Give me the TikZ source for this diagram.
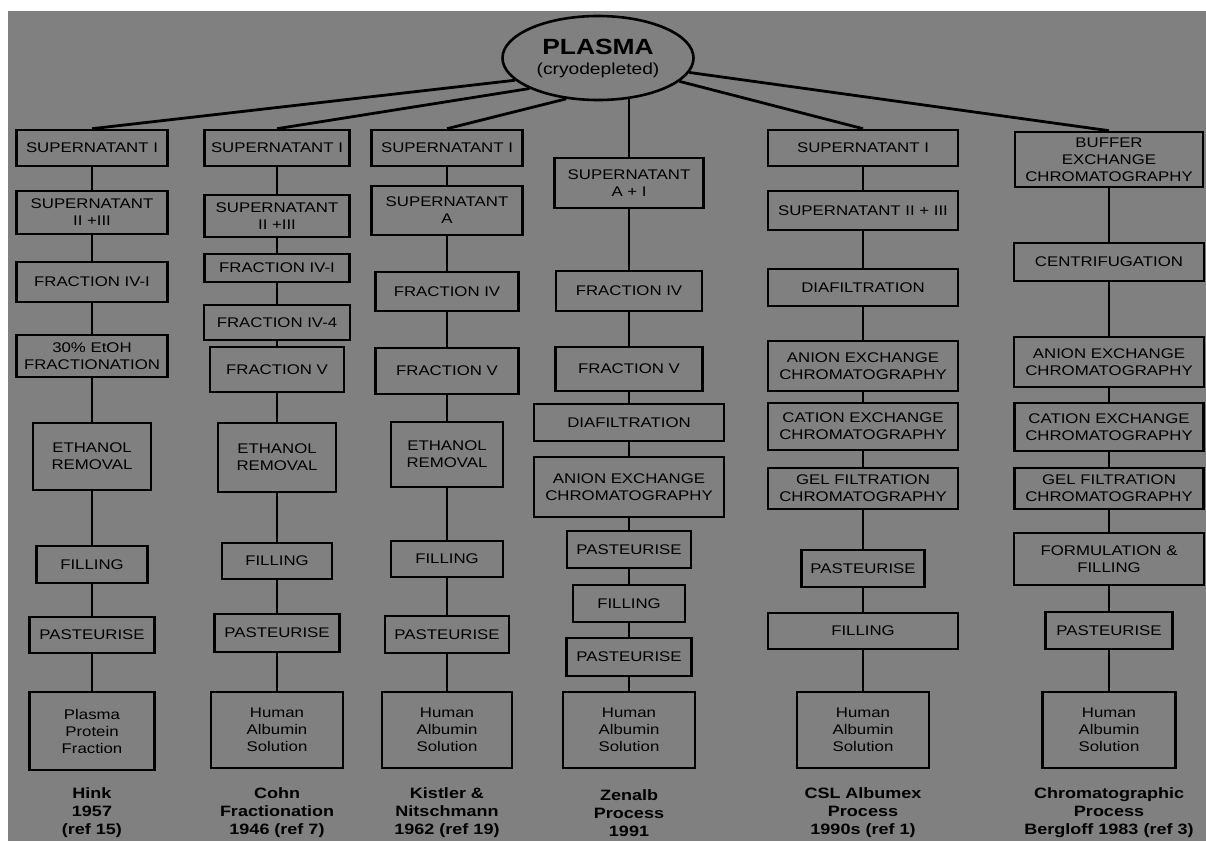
\documentclass[tikz,border=0pt]{standalone}
\usepackage{fontspec}
\newfontfamily\bfam[FakeStretch=1.2]{Liberation Sans}
\usetikzlibrary{shapes.geometric}
\definecolor{bggray}{RGB}{128,128,128}
\tikzset{
  bx/.style={draw=black, line width=2.6pt, rectangle, inner sep=0pt, align=center,
    font=\bfam\fontsize{14}{17}\selectfont, text=black},
  lbl/.style={align=center, font=\bfam\bfseries\fontsize{15}{18}\selectfont, inner sep=0pt, text=black},
  conn/.style={line width=2.8pt, draw=black},
  plasmabox/.style={ellipse, draw=black, line width=2.6pt, inner sep=0pt, align=center,
    font=\bfam\fontsize{16}{20}\selectfont, text=black},
}
\newcommand\bx[6]{\node[bx, minimum width=#3, minimum height={(#5)-(#4)}] (#1) at (#2,{((#4)+(#5))/2}) {#6};}
\begin{document}
\begin{tikzpicture}[x=1pt,y=-1pt]
\useasboundingbox (0,0) rectangle (1206,841);
\fill[white] (0,0) rectangle (1206,841);
\fill[bggray] (8,11) rectangle (1206,841);

\node[plasmabox, minimum width=191, minimum height=84] (plasma) at (598,58)
  {{\fontsize{22}{22}\selectfont\bfseries PLASMA}\\[0pt](cryodepleted)};

% Column 1: Hink
\bx{a1}{92}{151}{130}{166}{SUPERNATANT I}
\bx{a2}{92}{151}{191}{234}{SUPERNATANT\\II +III}
\bx{a3}{92}{151}{262}{302}{FRACTION IV-I}
\bx{a4}{92}{151}{335}{377}{30\% EtOH\\FRACTIONATION}
\bx{a5}{92}{118}{423}{490}{ETHANOL\\REMOVAL}
\bx{a6}{92}{111}{546}{583}{FILLING}
\bx{a7}{92}{125}{617}{653}{PASTEURISE}
\bx{a8}{92}{125}{692}{770}{Plasma\\Protein\\Fraction}
\node[lbl] (l1) at (92,813) {Hink\\1957\\(ref 15)};

% Column 2: Cohn
\bx{b1}{277}{145}{130}{166}{SUPERNATANT I}
\bx{b2}{277}{145}{195}{237}{SUPERNATANT\\II +III}
\bx{b3}{277}{145}{254}{282}{FRACTION IV-I}
\bx{b4}{277}{146}{305}{340}{FRACTION IV-4}
\bx{b5}{277}{134}{347}{392}{FRACTION V}
\bx{b6}{277}{118}{423}{492}{ETHANOL\\REMOVAL}
\bx{b7}{277}{110}{543}{579}{FILLING}
\bx{b8}{277}{125}{614}{652}{PASTEURISE}
\bx{b9}{277}{132}{692}{768}{Human\\Albumin\\Solution}
\node[lbl] (l2) at (277,813) {Cohn\\Fractionation\\1946 (ref 7)};

% Column 3: Kistler & Nitschmann
\bx{c1}{447}{151}{130}{166}{SUPERNATANT I}
\bx{c2}{447}{151}{186}{235}{SUPERNATANT\\A}
\bx{c3}{447}{143}{272}{311}{FRACTION IV}
\bx{c4}{447}{143}{348}{394}{FRACTION V}
\bx{c5}{447}{112}{422}{487}{ETHANOL\\REMOVAL}
\bx{c6}{447}{112}{541}{577}{FILLING}
\bx{c7}{447}{124}{616}{653}{PASTEURISE}
\bx{c8}{447}{130}{692}{768}{Human\\Albumin\\Solution}
\node[lbl] (l3) at (447,813) {Kistler \&\\Nitschmann\\1962 (ref 19)};

% Column 4: Zenalb
\bx{d1}{629}{149}{158}{208}{SUPERNATANT\\A + I}
\bx{d2}{629}{146}{271}{311}{FRACTION IV}
\bx{d3}{629}{147}{347}{391}{FRACTION V}
\bx{d4}{629}{190}{404}{441}{DIAFILTRATION}
\bx{d5}{629}{190}{457}{517}{ANION EXCHANGE\\CHROMATOGRAPHY}
\bx{d6}{629}{124}{531}{568}{PASTEURISE}
\bx{d7}{629}{112}{585}{622}{FILLING}
\bx{d8}{629}{125}{638}{676}{PASTEURISE}
\bx{d9}{629}{132}{692}{768}{Human\\Albumin\\Solution}
\node[lbl] (l4) at (629,813) {Zenalb\\Process\\1991};

% Column 5: CSL Albumex
\bx{e1}{863}{190}{130}{166}{SUPERNATANT I}
\bx{e2}{863}{190}{191}{230}{SUPERNATANT II + III}
\bx{e3}{863}{190}{269}{306}{DIAFILTRATION}
\bx{e4}{863}{190}{341}{391}{ANION EXCHANGE\\CHROMATOGRAPHY}
\bx{e5}{863}{190}{403}{450}{CATION EXCHANGE\\CHROMATOGRAPHY}
\bx{e6}{863}{190}{468}{509}{GEL FILTRATION\\CHROMATOGRAPHY}
\bx{e7}{863}{123}{550}{587}{PASTEURISE}
\bx{e8}{863}{190}{613}{649}{FILLING}
\bx{e9}{863}{132}{692}{768}{Human\\Albumin\\Solution}
\node[lbl] (l5) at (863,813) {CSL Albumex\\Process\\1990s (ref 1)};

% Column 6: Chromatographic
\bx{f1}{1109}{188}{132}{187}{BUFFER\\EXCHANGE\\CHROMATOGRAPHY}
\bx{f2}{1109}{190}{243}{281}{CENTRIFUGATION}
\bx{f3}{1109}{190}{337}{387}{ANION EXCHANGE\\CHROMATOGRAPHY}
\bx{f4}{1109}{189}{403}{451}{CATION EXCHANGE\\CHROMATOGRAPHY}
\bx{f5}{1109}{189}{468}{509}{GEL FILTRATION\\CHROMATOGRAPHY}
\bx{f6}{1109}{190}{533}{585}{FORMULATION \&\\FILLING}
\bx{f7}{1109}{127}{612}{649}{PASTEURISE}
\bx{f8}{1109}{133}{692}{768}{Human\\Albumin\\Solution}
\node[lbl] (l6) at (1109,813) {Chromatographic\\Process\\Bergloff 1983 (ref 3)};

% Connectors from plasma
\draw[conn] (plasma.195) -- (a1.north);
\draw[conn] (plasma.204) -- (b1.north);
\draw[conn] (plasma.232) -- (c1.north);
\draw[conn] (d1.north |- plasma.308) -- (d1.north);
\draw[conn] (plasma.344) -- (e1.north);
\draw[conn] (plasma.351) -- (f1.north);

% Vertical connectors
\foreach \p/\q in {a1/a2,a2/a3,a3/a4,a4/a5,a5/a6,a6/a7,a7/a8,
                   b1/b2,b2/b3,b3/b4,b4/b5,b5/b6,b6/b7,b7/b8,b8/b9,
                   c1/c2,c2/c3,c3/c4,c4/c5,c5/c6,c6/c7,c7/c8,
                   d1/d2,d2/d3,d3/d4,d4/d5,d5/d6,d6/d7,d7/d8,d8/d9,
                   e1/e2,e2/e3,e3/e4,e4/e5,e5/e6,e6/e7,e7/e8,e8/e9,
                   f1/f2,f2/f3,f3/f4,f4/f5,f5/f6,f6/f7,f7/f8}
  \draw[conn] (\p.south) -- (\q.north);
\end{tikzpicture}
\end{document}
